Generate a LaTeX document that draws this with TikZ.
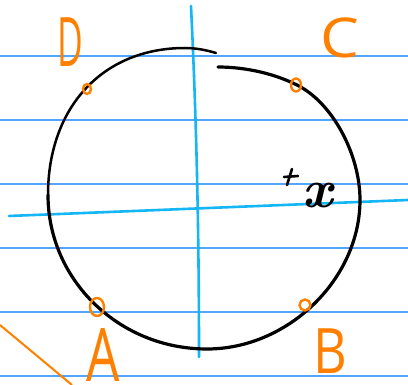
\documentclass[tikz,border=0pt]{standalone}
\usepackage{fontspec}
\setsansfont{Open Sans}
\usetikzlibrary{shapes.geometric,positioning,calc}
\definecolor{penOrange}{RGB}{255,128,0}
\definecolor{ruleBlue}{RGB}{80,165,255}
\definecolor{axisCyan}{RGB}{20,182,245}
\tikzset{
  rule/.style={ruleBlue,line width=1.2pt},
  axis/.style={axisCyan,line width=2.6pt,line cap=round},
  rim/.style={black,line width=3.2pt,line cap=round},
  pt/.style={draw=penOrange,ellipse,line width=2.4pt,inner sep=0pt},
  lbl/.style={text=penOrange,font=\sffamily\fontsize{56}{56}\selectfont,inner sep=0pt},
}

\begin{document}
\begin{tikzpicture}[x=1pt,y=-1pt]
  \useasboundingbox (0,0) rectangle (408,385);
  % ruled lines of the page
  \foreach \yy in {56,120,184,248,312,376}
    \draw[rule] (0,\yy) -- (408,\yy);

  % axes
  \coordinate (vtop) at (191,6);
  \coordinate (vbot) at (199,357);
  \coordinate (hleft) at (9,216);
  \coordinate (hright) at (408,200);
  \draw[axis] (vtop) .. controls (196,110) and (199,220) .. (vbot);
  \draw[axis] (hleft) -- (hright);

  % the circle, left open at the top
  \coordinate (gapL) at (216,53);
  \coordinate (gapR) at (218,67);
  \draw[rim,line width=2.5pt] (gapL) .. controls (206,50) and (196,48) .. (185,48)
    .. controls (103,48) and (48,107) .. (48,195);
  \draw[rim] (48,195) .. controls (48,280) and (119,349) .. (207,349)
    .. controls (288,349) and (360,279) .. (360,200)
    .. controls (360,155) and (333,103) .. (297,85)
    .. controls (270,71.5) and (240,67) .. (gapR);

  % points on the circle
  \node[pt,minimum width=8pt,minimum height=10pt] (pD) at (87,89) {};
  \node[pt,minimum width=10pt,minimum height=13pt] (pC) at (296,85) {};
  \node[pt,minimum width=14pt,minimum height=18pt] (pA) at (97,307) {};
  \node[pt,minimum width=11pt,minimum height=11pt] (pB) at (305,305) {};

  \node[lbl] (lD) at (70,42) {\scalebox{0.63}[1.22]{D}};
  \node[lbl] (lC) at (340,38) {\scalebox{1.1}[0.98]{C}};
  \node[lbl] (lA) at (103,355) {\scalebox{0.94}[1.32]{A}};
  \node[lbl] (lB) at (330,351) {\scalebox{0.93}[1.12]{B}};

  % the point x
  \draw[line width=2.6pt,line cap=round] (292,169) -- (287,185);
  \draw[line width=2.6pt,line cap=round] (284,177) -- (298,176);
  \node[font=\rmfamily\bfseries\itshape\fontsize{54}{54}\selectfont,inner sep=0pt]
    (xlbl) at (318,196) {x};

  % stray stroke
  \coordinate (s0) at (0,325);
  \coordinate (s1) at (72,385);
  \draw[penOrange,line width=2pt] (s0) -- (s1);
\end{tikzpicture}
\end{document}
